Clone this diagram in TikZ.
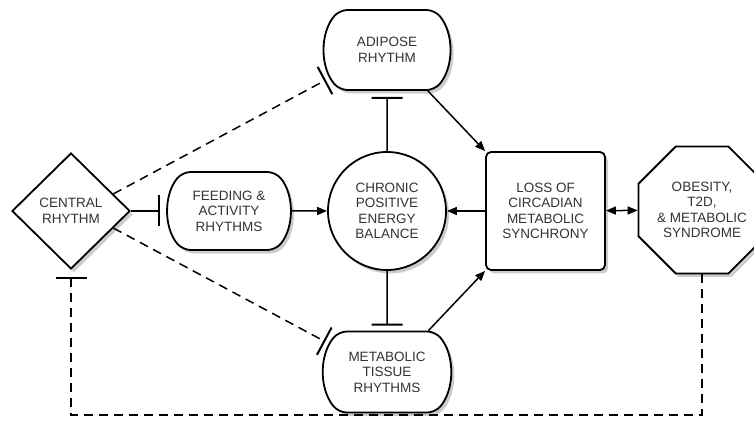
\documentclass[tikz,border=0pt]{standalone}
\usepackage{fontspec}
\setmainfont{Liberation Sans}
\usetikzlibrary{shapes.geometric,shapes.misc,arrows.meta,shadows}

\tikzset{
  box/.style={draw,line width=1.8pt,fill=white,align=center,inner sep=0pt,
    text=black!80,font=\fontsize{13.5}{15.5}\selectfont,
    drop shadow={shadow xshift=3pt,shadow yshift=-3.5pt,opacity=.4}},
  rhythm/.style={box,rounded rectangle,rounded rectangle arc length=80,rounded corners=8pt,
    minimum width=119pt,minimum height=79pt},
  link/.style={line width=1.5pt},
  pointer/.style={link,-{Triangle[length=10pt,width=8pt]}},
  blocker/.style={link,-{Bar[width=31pt,line width=2pt]}},
  loose/.style={dash pattern=on 9pt off 6pt},
}

\begin{document}
\begin{tikzpicture}[x=1pt,y=-1pt]
\useasboundingbox (0,0) rectangle (754,435);

% clock and rhythms
\node[box,diamond,minimum width=118pt,minimum height=116pt] (central) at (71,211) {CENTRAL\\RHYTHM};
\node[rhythm,minimum width=118pt,minimum height=78pt] (feeding) at (229,211) {FEEDING \&\\ACTIVITY\\RHYTHMS};
\node[rhythm,minimum height=80pt] (adipose) at (387,50) {ADIPOSE\\RHYTHM};
\node[rhythm,minimum height=81pt] (metabolic) at (387,372) {METABOLIC\\TISSUE\\RHYTHMS};

% energy balance and outcome
\node[box,circle,minimum size=118pt] (balance) at (387,211) {CHRONIC\\POSITIVE\\ENERGY\\BALANCE};
\node[box,rectangle,rounded corners=5pt,minimum width=119pt,minimum height=118pt] (loss) at (545.5,211) {LOSS OF\\CIRCADIAN\\METABOLIC\\SYNCHRONY};
\node[box,regular polygon,regular polygon sides=8,minimum size=122pt] (obesity) at (702,210) {OBESITY,\\T2D,\\\& METABOLIC\\SYNDROME};

% inhibition from the central clock
\draw[blocker,shorten >=7pt] (central) -- (feeding);
\draw[blocker,loose,shorten >=5pt] (central.22) -- (adipose.206);
\draw[blocker,loose,shorten >=5pt] (central.-22) -- (metabolic.154);

% energy balance
\draw[pointer] (feeding) -- (balance);
\draw[pointer] (loss) -- (balance);
\draw[blocker,shorten >=6pt] (balance) -- (adipose);
\draw[blocker,shorten >=5pt] (balance) -- (metabolic);
\draw[pointer] (adipose.-45) -- (loss.north west);
\draw[pointer] (metabolic.45) -- (loss.south west);
\draw[link,{Triangle[length=10pt,width=8pt]}-{Triangle[length=10pt,width=8pt]}] (loss) -- (obesity);

% feedback loop
\coordinate (loopbase) at (0,415);
\draw[blocker,loose,shorten >=7pt] (obesity.south) -- (obesity.south |- loopbase) -| (central.south);

\end{tikzpicture}
\end{document}
